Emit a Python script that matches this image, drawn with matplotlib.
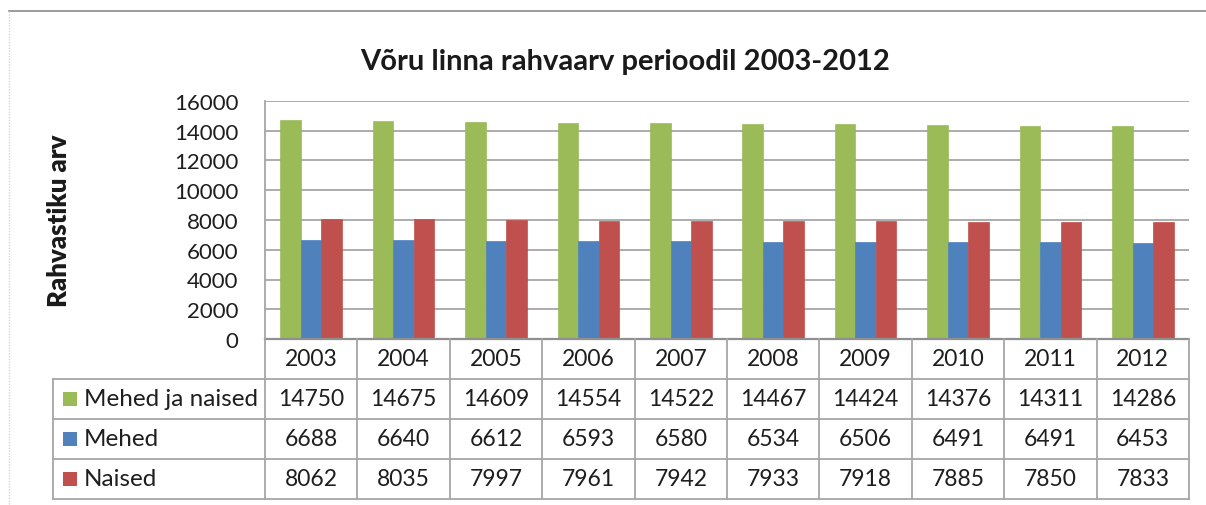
import matplotlib
matplotlib.use("Agg")
import matplotlib.pyplot as plt
from matplotlib.patches import Rectangle

years = ["2003", "2004", "2005", "2006", "2007", "2008", "2009", "2010", "2011", "2012"]
series_names = ["Mehed ja naised", "Mehed", "Naised"]
kokku = [14750, 14675, 14609, 14554, 14522, 14467, 14424, 14376, 14311, 14286]
mehed = [6688, 6640, 6612, 6593, 6580, 6534, 6506, 6491, 6491, 6453]
naised = [8062, 8035, 7997, 7961, 7942, 7933, 7918, 7885, 7850, 7833]
title = "Võru linna rahvaarv perioodil 2003-2012"
ylabel = "Rahvastiku arv"
yticks = [0, 2000, 4000, 6000, 8000, 10000, 12000, 14000, 16000]

colors = ["#9BBB59", "#4F81BD", "#C0504D"]
series = [kokku, mehed, naised]

plt.rcParams['font.family'] = ['Lato', 'DejaVu Sans']
W, H = 1206, 506
fig = plt.figure(figsize=(W / 100, H / 100), dpi=100)
fig.patch.set_facecolor("white")

# plot area in pixels
pl, pr, pt, pb = 265, 1189, 102, 340
ax = fig.add_axes([pl / W, 1 - pb / H, (pr - pl) / W, (pb - pt) / H])
n = len(years)
bw = 0.222
for k, (vals, c) in enumerate(zip(series, colors)):
    xs = [i + (k - 1) * bw for i in range(n)]
    ax.bar(xs, vals, width=bw, color=c, edgecolor=c, linewidth=0.5, zorder=3)

ax.set_xlim(-0.5, n - 0.5)
ax.set_ylim(0, 16000)
ax.set_yticks(yticks)
ax.set_yticklabels([str(v) for v in yticks], fontsize=16, color="#1e1e1e")
ax.tick_params(axis="y", length=0, pad=19)
ax.set_xticks([])
ax.grid(axis="y", color="#a6a6a6", linewidth=1.3, zorder=0)
for s in ["top", "right", "bottom"]:
    ax.spines[s].set_visible(False)
ax.spines["left"].set_color("#a6a6a6")
ax.spines["left"].set_linewidth(1.3)
ax.set_ylabel(ylabel, fontsize=18.5, fontweight="heavy", color="#1a1a1a", labelpad=0)
ax.yaxis.set_label_coords(-(pl - 59) / (pr - pl), 0.5)
ax.yaxis.label.set_va("center")

# overlay axes in pixel coordinates (origin top-left)
ov = fig.add_axes([0, 0, 1, 1], zorder=-1)
ov.set_xlim(0, W)
ov.set_ylim(H, 0)
ov.axis("off")

def px_x(xdata):
    return ax.transData.transform((xdata, 0))[0]

# outer chart border
ov.plot([9, W], [12, 12], color="#8a8a8a", linewidth=1.2)
ov.plot([9, 9], [12, H], color="#d5d5d5", linewidth=1.0, linestyle=(0, (1, 1)))

ov2 = fig.add_axes([0, 0, 1, 1], zorder=5)
ov2.set_xlim(0, W)
ov2.set_ylim(H, 0)
ov2.axis("off")
ov2.patch.set_alpha(0)

fig.text(625 / W, 1 - 62 / H, title, ha="center", va="center", fontsize=21,
         fontweight="bold", color="#1a1a1a")

# data table
lc = "#a6a6a6"
lw = 1.3
tleft = 53
row_edges = [340, 380, 420, 460, 500]
edges = [px_x(i - 0.5) for i in range(n + 1)]
right = edges[-1]
# horizontal lines
ov2.plot([edges[0], right], [340, 340], color="#8f8f8f", linewidth=1.6)
for y in row_edges[1:]:
    ov2.plot([tleft, right], [y, y], color=lc, linewidth=lw)
# vertical lines
for x in edges:
    ov2.plot([x, x], [340, 500], color=lc, linewidth=lw)
ov2.plot([tleft, tleft], [380, 500], color=lc, linewidth=lw)

tc = "#1e1e1e"
for i, y in enumerate(years):
    ov2.text((edges[i] + edges[i + 1]) / 2, 360, y, ha="center", va="center",
             fontsize=16.5, color=tc)
for r, (name, vals, c) in enumerate(zip(series_names, series, colors)):
    yc = (row_edges[r + 1] + row_edges[r + 2]) / 2
    ov2.add_patch(Rectangle((63, yc - 7), 14, 14, facecolor=c, edgecolor="none"))
    ov2.text(84, yc, name, ha="left", va="center", fontsize=17.5, color=tc)
    for i, v in enumerate(vals):
        ov2.text((edges[i] + edges[i + 1]) / 2, yc, str(v), ha="center", va="center",
                 fontsize=16.5, color=tc)

fig.savefig("out.png", dpi=100)
